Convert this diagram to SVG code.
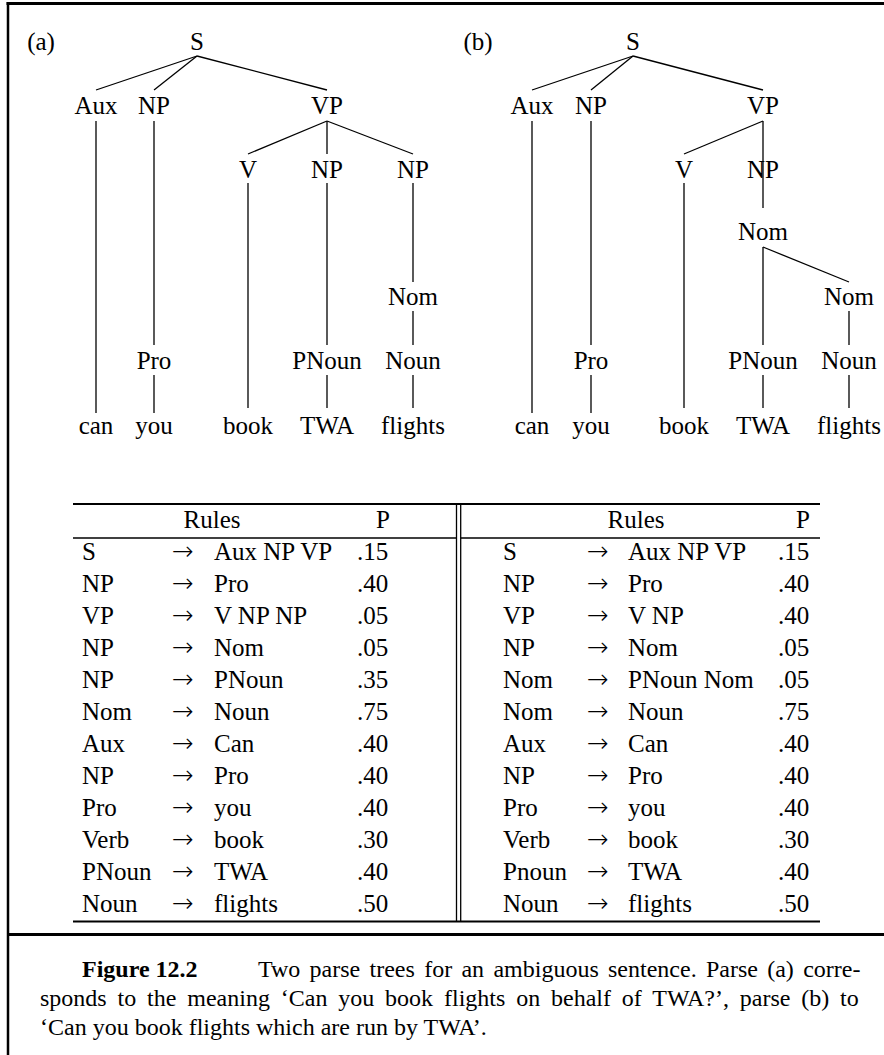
<svg xmlns="http://www.w3.org/2000/svg" width="884" height="1055" viewBox="0 0 884 1055">
<style>
.t{font-family:"Liberation Serif","Times New Roman",serif;font-size:25px;fill:#000}
.n{text-anchor:middle}
.e{stroke:#000;stroke-width:1.3;fill:none}
.c{font-family:"Liberation Serif","Times New Roman",serif;font-size:24px;fill:#000}
.r{text-anchor:end}
.a{font-family:"DejaVu Sans",sans-serif;font-weight:200;font-size:26px;fill:#000}
</style>
<rect width="884" height="1055" fill="#fff"/>
<g id="frame" stroke="#000" fill="none">
<line x1="6.5" y1="3.5" x2="884" y2="3.5" stroke-width="3"/>
<line x1="8" y1="2" x2="8" y2="1055" stroke-width="2.5"/>
<line x1="8" y1="934.5" x2="884" y2="934.5" stroke-width="3"/>
</g>
<g id="connectors" class="e">
<line x1="197" y1="56" x2="96" y2="90"/>
<line x1="197" y1="56" x2="154" y2="90"/>
<line x1="197" y1="56" x2="327" y2="90"/>
<line x1="96" y1="121" x2="96" y2="413"/>
<line x1="154" y1="121" x2="154" y2="345"/>
<line x1="154" y1="375" x2="154" y2="413"/>
<line x1="327" y1="121" x2="248" y2="154"/>
<line x1="327" y1="121" x2="327" y2="154"/>
<line x1="327" y1="121" x2="413" y2="154"/>
<line x1="248" y1="183" x2="248" y2="408"/>
<line x1="327" y1="183" x2="327" y2="345"/>
<line x1="327" y1="375" x2="327" y2="408"/>
<line x1="413" y1="183" x2="413" y2="282"/>
<line x1="413" y1="311" x2="413" y2="345"/>
<line x1="413" y1="375" x2="413" y2="408"/>
<line x1="633" y1="56" x2="532" y2="90"/>
<line x1="633" y1="56" x2="591" y2="90"/>
<line x1="633" y1="56" x2="763" y2="90"/>
<line x1="532" y1="121" x2="532" y2="413"/>
<line x1="591" y1="121" x2="591" y2="345"/>
<line x1="591" y1="375" x2="591" y2="413"/>
<line x1="763" y1="121" x2="684" y2="154"/>
<line x1="763" y1="121" x2="763" y2="208"/>
<line x1="684" y1="183" x2="684" y2="408"/>
<line x1="763" y1="247" x2="763" y2="345"/>
<line x1="763" y1="247" x2="849" y2="282"/>
<line x1="763" y1="375" x2="763" y2="408"/>
<line x1="849" y1="311" x2="849" y2="345"/>
<line x1="849" y1="375" x2="849" y2="408"/>
</g>
<g id="tree-a" class="t n">
<text x="41" y="50">(a)</text>
<g id="a-S"><text x="197" y="50">S</text></g>
<g id="a-Aux"><text x="96" y="114">Aux</text></g>
<g id="a-NP1"><text x="154" y="114">NP</text></g>
<g id="a-VP"><text x="327" y="114">VP</text></g>
<g id="a-V"><text x="248" y="178">V</text></g>
<g id="a-NP2"><text x="327" y="178">NP</text></g>
<g id="a-NP3"><text x="413" y="178">NP</text></g>
<g id="a-Nom"><text x="413" y="305">Nom</text></g>
<g id="a-Pro"><text x="154" y="369">Pro</text></g>
<g id="a-PNoun"><text x="327" y="369">PNoun</text></g>
<g id="a-Noun"><text x="413" y="369">Noun</text></g>
<g id="a-can"><text x="96" y="434">can</text></g>
<g id="a-you"><text x="154" y="434">you</text></g>
<g id="a-book"><text x="248" y="434">book</text></g>
<g id="a-TWA"><text x="327" y="434">TWA</text></g>
<g id="a-flights"><text x="413" y="434">flights</text></g>
</g>
<g id="tree-b" class="t n">
<text x="478" y="50">(b)</text>
<g id="b-S"><text x="633" y="50">S</text></g>
<g id="b-Aux"><text x="532" y="114">Aux</text></g>
<g id="b-NP1"><text x="591" y="114">NP</text></g>
<g id="b-VP"><text x="763" y="114">VP</text></g>
<g id="b-V"><text x="684" y="178">V</text></g>
<g id="b-NP2"><text x="763" y="178">NP</text></g>
<g id="b-Nom1"><text x="763" y="240">Nom</text></g>
<g id="b-Nom2"><text x="849" y="305">Nom</text></g>
<g id="b-Pro"><text x="591" y="369">Pro</text></g>
<g id="b-PNoun"><text x="763" y="369">PNoun</text></g>
<g id="b-Noun"><text x="849" y="369">Noun</text></g>
<g id="b-can"><text x="532" y="434">can</text></g>
<g id="b-you"><text x="591" y="434">you</text></g>
<g id="b-book"><text x="684" y="434">book</text></g>
<g id="b-TWA"><text x="763" y="434">TWA</text></g>
<g id="b-flights"><text x="849" y="434">flights</text></g>
</g>
<g id="table" stroke="#000" fill="none">
<line x1="73" y1="504" x2="820" y2="504" stroke-width="2.2"/>
<line x1="73" y1="538" x2="456.5" y2="538" stroke-width="1.3"/>
<line x1="460.7" y1="538" x2="820" y2="538" stroke-width="1.3"/>
<line x1="73" y1="921.5" x2="820" y2="921.5" stroke-width="2"/>
<line x1="456.5" y1="504" x2="456.5" y2="921.5" stroke-width="1.3"/>
<line x1="460.7" y1="504" x2="460.7" y2="921.5" stroke-width="1.3"/>
</g>
<g id="table-left" class="t">
<text x="212" y="528" class="t n">Rules</text><text x="390" y="528" class="t r">P</text>
<text x="82" y="560">S</text><text x="214" y="560">Aux NP VP</text><text x="357" y="560">.15</text>
<text x="82" y="592">NP</text><text x="214" y="592">Pro</text><text x="357" y="592">.40</text>
<text x="82" y="624">VP</text><text x="214" y="624">V NP NP</text><text x="357" y="624">.05</text>
<text x="82" y="656">NP</text><text x="214" y="656">Nom</text><text x="357" y="656">.05</text>
<text x="82" y="688">NP</text><text x="214" y="688">PNoun</text><text x="357" y="688">.35</text>
<text x="82" y="720">Nom</text><text x="214" y="720">Noun</text><text x="357" y="720">.75</text>
<text x="82" y="752">Aux</text><text x="214" y="752">Can</text><text x="357" y="752">.40</text>
<text x="82" y="784">NP</text><text x="214" y="784">Pro</text><text x="357" y="784">.40</text>
<text x="82" y="816">Pro</text><text x="214" y="816">you</text><text x="357" y="816">.40</text>
<text x="82" y="848">Verb</text><text x="214" y="848">book</text><text x="357" y="848">.30</text>
<text x="82" y="880">PNoun</text><text x="214" y="880">TWA</text><text x="357" y="880">.40</text>
<text x="82" y="912">Noun</text><text x="214" y="912">flights</text><text x="357" y="912">.50</text>
</g>
<g id="table-left-arrows" class="a">
<text x="172" y="560">→</text><text x="172" y="592">→</text><text x="172" y="624">→</text><text x="172" y="656">→</text>
<text x="172" y="688">→</text><text x="172" y="720">→</text><text x="172" y="752">→</text><text x="172" y="784">→</text>
<text x="172" y="816">→</text><text x="172" y="848">→</text><text x="172" y="880">→</text><text x="172" y="912">→</text>
</g>
<g id="table-right" class="t">
<text x="636" y="528" class="t n">Rules</text><text x="810" y="528" class="t r">P</text>
<text x="503" y="560">S</text><text x="628" y="560">Aux NP VP</text><text x="778" y="560">.15</text>
<text x="503" y="592">NP</text><text x="628" y="592">Pro</text><text x="778" y="592">.40</text>
<text x="503" y="624">VP</text><text x="628" y="624">V NP</text><text x="778" y="624">.40</text>
<text x="503" y="656">NP</text><text x="628" y="656">Nom</text><text x="778" y="656">.05</text>
<text x="503" y="688">Nom</text><text x="628" y="688">PNoun Nom</text><text x="778" y="688">.05</text>
<text x="503" y="720">Nom</text><text x="628" y="720">Noun</text><text x="778" y="720">.75</text>
<text x="503" y="752">Aux</text><text x="628" y="752">Can</text><text x="778" y="752">.40</text>
<text x="503" y="784">NP</text><text x="628" y="784">Pro</text><text x="778" y="784">.40</text>
<text x="503" y="816">Pro</text><text x="628" y="816">you</text><text x="778" y="816">.40</text>
<text x="503" y="848">Verb</text><text x="628" y="848">book</text><text x="778" y="848">.30</text>
<text x="503" y="880">Pnoun</text><text x="628" y="880">TWA</text><text x="778" y="880">.40</text>
<text x="503" y="912">Noun</text><text x="628" y="912">flights</text><text x="778" y="912">.50</text>
</g>
<g id="table-right-arrows" class="a">
<text x="587" y="560">→</text><text x="587" y="592">→</text><text x="587" y="624">→</text><text x="587" y="656">→</text>
<text x="587" y="688">→</text><text x="587" y="720">→</text><text x="587" y="752">→</text><text x="587" y="784">→</text>
<text x="587" y="816">→</text><text x="587" y="848">→</text><text x="587" y="880">→</text><text x="587" y="912">→</text>
</g>
<g id="caption" class="c">
<text x="82" y="977" font-weight="bold">Figure 12.2</text>
<text x="258" y="977" word-spacing="3.3">Two parse trees for an ambiguous sentence. Parse (a) corre-</text>
<text x="40" y="1006" word-spacing="4.86">sponds to the meaning ‘Can you book flights on behalf of TWA?’, parse (b) to</text>
<text x="40" y="1035">‘Can you book flights which are run by TWA’.</text>
</g>
</svg>
